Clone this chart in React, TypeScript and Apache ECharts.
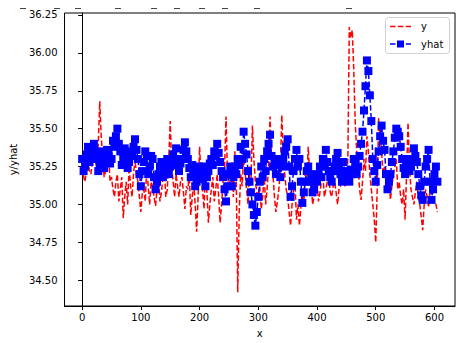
import React, { useEffect, useRef } from "react";
import * as echarts from "echarts";

const X_STEP = 2.5;

const yActual = [
  35.30, 35.18, 35.15, 35.25, 35.28, 35.22, 35.20, 35.30, 35.32, 35.28,
  35.25, 35.40, 35.68, 35.45, 35.30, 35.18, 35.22, 35.28, 35.35, 35.15,
  35.18, 35.10, 35.05, 35.15, 35.20, 35.02, 35.10, 35.18, 34.91, 35.05,
  35.15, 35.00, 35.25, 35.12, 35.05, 35.20, 35.30, 35.20, 35.15, 35.05,
  34.95, 35.08, 35.10, 35.02, 35.25, 35.12, 35.00, 35.15, 35.12, 35.05,
  34.99, 35.10, 35.20, 35.02, 35.08, 35.18, 35.22, 35.05, 35.10, 35.30,
  35.55, 35.25, 35.15, 35.05, 35.20, 35.12, 35.05, 35.15, 35.18, 35.08,
  34.97, 35.12, 35.10, 35.20, 34.93, 35.05, 35.15, 35.00, 34.82, 35.05,
  35.38, 35.18, 35.10, 34.97, 35.20, 35.08, 34.88, 35.00, 35.10, 35.18,
  35.02, 35.10, 35.20, 35.05, 34.88, 35.00, 35.15, 35.22, 35.58, 35.20,
  35.10, 35.18, 35.25, 35.05, 35.35, 35.15, 34.42, 34.95, 35.20, 35.12,
  35.30, 35.22, 35.10, 35.00, 35.25, 35.15, 35.52, 35.30, 35.15, 35.08,
  35.05, 35.12, 34.97, 35.05, 35.20, 35.00, 35.10, 35.25, 35.58, 35.30,
  35.20, 35.05, 34.95, 35.02, 35.10, 35.22, 35.59, 35.35, 35.20, 35.10,
  35.05, 34.95, 34.86, 35.00, 35.10, 35.15, 34.90, 35.00, 34.86, 34.98,
  35.10, 35.00, 35.20, 35.15, 35.38, 35.20, 35.15, 35.00, 35.05, 35.12,
  35.15, 35.02, 35.08, 35.15, 35.20, 35.05, 35.10, 35.15, 35.18, 35.08,
  35.05, 35.12, 35.15, 35.08, 35.00, 35.10, 35.12, 35.18, 35.20, 35.12,
  35.15, 35.30, 36.17, 36.10, 36.15, 35.90, 35.55, 35.35, 35.25, 35.10,
  35.03, 35.15, 35.30, 35.22, 35.45, 35.35, 35.20, 35.10, 35.00, 34.90,
  34.75, 35.10, 35.57, 35.45, 35.35, 35.20, 35.25, 35.15, 35.10, 35.20,
  35.03, 35.12, 35.20, 35.25, 35.30, 35.10, 35.15, 35.05, 35.00, 35.10,
  34.90, 35.20, 35.54, 35.25, 35.10, 35.05, 35.00, 35.08, 35.15, 35.05,
  35.00, 34.92, 34.83, 35.00, 35.10, 35.05, 34.98, 35.10, 35.15, 35.05,
  35.02, 35.00, 34.95,
];

const yHat = [
  35.30, 35.22, 35.25, 35.33, 35.38, 35.28, 35.32, 35.36, 35.40, 35.35,
  35.30, 35.22, 35.25, 35.30, 35.35, 35.24, 35.28, 35.36, 35.33, 35.27,
  35.30, 35.42, 35.38, 35.45, 35.50, 35.40, 35.35, 35.26, 35.30, 35.37,
  35.33, 35.24, 35.28, 35.32, 35.35, 35.38, 35.43, 35.36, 35.30, 35.20,
  35.12, 35.22, 35.28, 35.35, 35.32, 35.20, 35.25, 35.32, 35.30, 35.18,
  35.10, 35.15, 35.20, 35.25, 35.28, 35.18, 35.22, 35.27, 35.30, 35.20,
  35.25, 35.30, 35.33, 35.26, 35.37, 35.30, 35.22, 35.27, 35.30, 35.36,
  35.41, 35.35, 35.30, 35.24, 35.18, 35.26, 35.22, 35.12, 35.15, 35.20,
  35.25, 35.17, 35.20, 35.25, 35.12, 35.18, 35.22, 35.27, 35.30, 35.26,
  35.35, 35.32, 35.40, 35.34, 35.28, 35.22, 35.18, 35.10, 35.02, 35.12,
  35.20, 35.25, 35.12, 35.18, 35.25, 35.20, 35.30, 35.26, 35.38, 35.30,
  35.48, 35.40, 35.33, 35.22, 35.15, 35.08, 35.00, 34.93, 34.86, 34.95,
  35.05, 35.15, 35.25, 35.18, 35.30, 35.22, 35.35, 35.40, 35.46, 35.32,
  35.25, 35.30, 35.20, 35.26, 35.30, 35.18, 35.25, 35.30, 35.35, 35.38,
  35.43, 35.25, 35.05, 35.12, 35.22, 35.30, 35.36, 35.25, 35.30, 35.15,
  35.01, 35.08, 35.15, 35.22, 35.25, 35.15, 35.20, 35.08, 35.10, 35.18,
  35.15, 35.20, 35.25, 35.18, 35.30, 35.25, 35.36, 35.28, 35.22, 35.18,
  35.15, 35.22, 35.25, 35.30, 35.34, 35.25, 35.20, 35.15, 35.28, 35.20,
  35.22, 35.17, 35.15, 35.23, 35.20, 35.30, 35.28, 35.20, 35.25, 35.32,
  35.40, 35.48, 35.62, 35.78, 35.95, 35.88, 35.72, 35.55, 35.30, 35.22,
  35.15, 35.26, 35.35, 35.45, 35.52, 35.42, 35.36, 35.20, 35.10, 35.15,
  35.20, 35.28, 35.35, 35.44, 35.50, 35.48, 35.45, 35.38, 35.30, 35.24,
  35.20, 35.26, 35.30, 35.22, 35.25, 35.30, 35.37, 35.32, 35.28, 35.20,
  35.12, 35.06, 35.03, 35.15, 35.25, 35.30, 35.36, 35.15, 35.03, 35.10,
  35.20, 35.25, 35.15,
];

const xTicks = [0, 100, 200, 300, 400, 500, 600];
const yTicks = [34.5, 34.75, 35.0, 35.25, 35.5, 35.75, 36.0, 36.25];
const legendNames = ["y", "yhat"];

// little clipped marks at the very top of the reference (cut-off title)
const topMarks = [20, 54, 75, 115, 151, 174, 199, 222, 254, 346];

const FONT = "DejaVu Sans";
const RED = "#ff0000";
const BLUE = "#0000ff";
const DASH = [5.5, 2.4];

export default function App() {
  const ref = useRef<HTMLDivElement>(null);
  useEffect(() => {
    const chart = echarts.init(ref.current!, null, { renderer: "svg" });
    const pairsY = yActual.map((v, i) => [i * X_STEP, v]);
    const pairsH = yHat.map((v, i) => [i * X_STEP, v]);

    const legendGraphic = {
      type: "group",
      z: 100,
      silent: true,
      children: [
        {
          type: "rect",
          shape: { x: 385.5, y: 17.5, width: 64, height: 36, r: 3 },
          style: { fill: "rgba(255,255,255,0.85)", stroke: "#d0d0d0", lineWidth: 1 },
        },
        {
          type: "line",
          shape: { x1: 390, y1: 26.5, x2: 411, y2: 26.5 },
          style: { stroke: RED, lineWidth: 1.5, lineDash: DASH },
        },
        {
          type: "text",
          x: 421,
          y: 26,
          style: {
            text: legendNames[0],
            font: `10px "${FONT}"`,
            fill: "#000",
            textVerticalAlign: "middle",
            verticalAlign: "middle",
          },
        },
        {
          type: "line",
          shape: { x1: 390, y1: 44, x2: 411, y2: 44 },
          style: { stroke: BLUE, lineWidth: 1.5, lineDash: DASH },
        },
        {
          type: "rect",
          shape: { x: 397, y: 40.5, width: 7, height: 7 },
          style: { fill: BLUE },
        },
        {
          type: "text",
          x: 421,
          y: 44,
          style: {
            text: legendNames[1],
            font: `10px "${FONT}"`,
            fill: "#000",
            textVerticalAlign: "middle",
            verticalAlign: "middle",
          },
        },
      ],
    };

    chart.setOption({
      animation: false,
      backgroundColor: "#ffffff",
      textStyle: { fontFamily: FONT },
      grid: {
        left: 59,
        right: 5,
        top: 13,
        bottom: 36,
        show: true,
        borderColor: "#000",
        borderWidth: 1,
        backgroundColor: "transparent",
      },
      xAxis: {
        type: "value",
        min: -30,
        max: 635,
        name: "x",
        nameLocation: "middle",
        nameGap: 22,
        nameTextStyle: { fontFamily: FONT, fontSize: 10, color: "#000" },
        axisLine: { show: true, lineStyle: { color: "#000", width: 1 } },
        axisTick: { show: true, length: 4, customValues: xTicks, lineStyle: { color: "#000" } },
        axisLabel: {
          customValues: xTicks,
          margin: 6,
          fontFamily: FONT,
          fontSize: 10,
          color: "#000",
        },
        splitLine: { show: false },
      },
      yAxis: {
        type: "value",
        min: 34.33,
        max: 36.263,
        name: "y/yhat",
        nameLocation: "middle",
        nameGap: 46,
        nameRotate: 90,
        nameTextStyle: { fontFamily: FONT, fontSize: 10, color: "#000" },
        axisLine: { show: true, lineStyle: { color: "#000", width: 1 } },
        axisTick: { show: true, length: 4, customValues: yTicks, lineStyle: { color: "#000" } },
        axisLabel: {
          customValues: yTicks,
          margin: 7,
          fontFamily: FONT,
          fontSize: 10,
          color: "#000",
          formatter: (v: number) => v.toFixed(2),
        },
        splitLine: { show: false },
      },
      graphic: [
        ...topMarks.map((x) => ({
          type: "line",
          shape: { x1: x, y1: 8.5, x2: x + 6, y2: 8.5 },
          style: { stroke: "#444", lineWidth: 1 },
          silent: true,
        })),
        legendGraphic,
      ],
      series: [
        {
          name: legendNames[0],
          type: "line",
          data: pairsY,
          symbol: "none",
          showSymbol: false,
          lineStyle: { color: RED, width: 1.5, type: DASH },
          itemStyle: { color: RED },
          z: 2,
        },
        {
          name: legendNames[1],
          type: "line",
          data: pairsH,
          symbol: "rect",
          symbolSize: 8,
          showSymbol: true,
          showAllSymbol: true,
          lineStyle: { color: BLUE, width: 1.5, type: DASH },
          itemStyle: { color: BLUE },
          z: 3,
        },
      ],
    });
    return () => chart.dispose();
  }, []);
  return (
    <div
      ref={ref}
      style={{ position: "absolute", left: 0, top: 0, width: 460, height: 343 }}
    />
  );
}
